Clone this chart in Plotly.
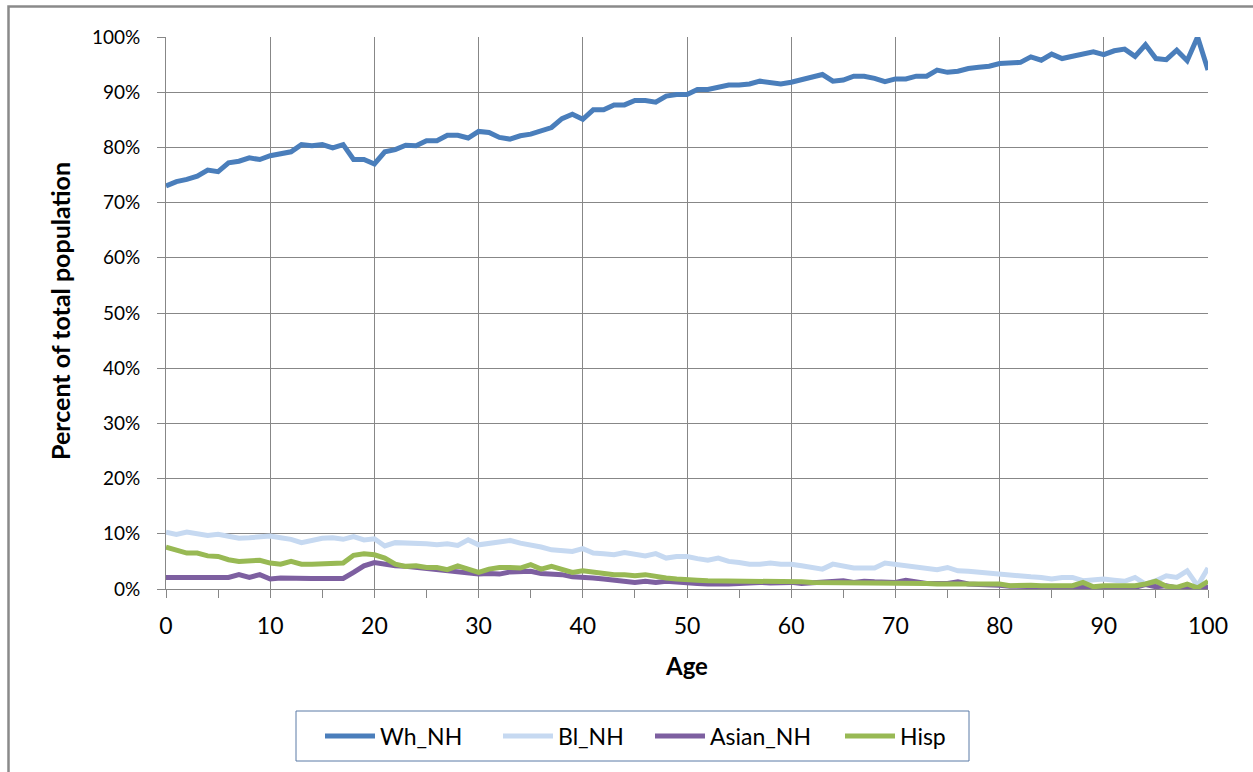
import plotly.graph_objects as go

ages = list(range(0, 101))

wh_nh = [73.0, 73.8, 74.2, 74.8, 75.9, 75.6, 77.2, 77.5, 78.1, 77.8,
         78.5, 78.9, 79.2, 80.5, 80.3, 80.5, 79.9, 80.5, 77.8, 77.8,
         77.0, 79.2, 79.6, 80.4, 80.3, 81.2, 81.2, 82.2, 82.2, 81.7,
         82.9, 82.7, 81.8, 81.5, 82.1, 82.4, 83.1, 83.6, 85.2, 86.0,
         85.1, 86.8, 86.8, 87.7, 87.7, 88.5, 88.5, 88.2, 89.3, 89.6,
         89.6, 90.5, 90.5, 90.8, 91.3, 91.3, 91.5, 92.0, 91.8, 91.5,
         91.8, 92.3, 92.8, 93.2, 92.0, 92.2, 92.9, 92.9, 92.5, 91.9,
         92.4, 92.4, 92.9, 92.9, 94.0, 93.6, 93.8, 94.3, 94.5, 94.7,
         95.2, 95.4, 95.4, 96.4, 95.8, 96.9, 96.1, 96.5, 97.0, 97.3,
         96.8, 97.5, 97.8, 96.5, 98.6, 96.1, 95.9, 97.6, 95.7, 100.0,
         94.0]

bl_nh = [10.3, 9.9, 10.3, 10.1, 9.7, 9.9, 9.6, 9.2, 9.3, 9.4,
         9.6, 9.3, 9.0, 8.4, 8.9, 9.2, 9.3, 9.0, 9.5, 8.9,
         9.1, 7.8, 8.4, 8.4, 8.3, 8.2, 8.0, 8.2, 7.9, 8.9,
         8.0, 8.3, 8.7, 8.8, 8.3, 8.0, 7.6, 7.1, 7.0, 6.8,
         7.3, 6.5, 6.4, 6.2, 6.6, 6.2, 6.0, 6.4, 5.6, 5.9,
         5.9, 5.5, 5.2, 5.6, 5.0, 4.8, 4.5, 4.5, 4.7, 4.5,
         4.5, 4.2, 3.9, 3.6, 4.5, 4.2, 3.8, 3.8, 3.8, 4.7,
         4.5, 4.2, 4.1, 3.8, 3.5, 3.9, 3.3, 3.2, 3.0, 2.8,
         2.7, 2.6, 2.4, 2.2, 2.1, 1.8, 2.1, 2.1, 1.5, 1.6,
         1.8, 1.6, 1.4, 2.1, 0.9, 1.5, 2.4, 2.1, 3.3, 0.6,
         3.8]

asian_nh = [2.1, 2.1, 2.1, 2.1, 2.1, 2.1, 2.1, 2.6, 2.1, 2.6,
            1.8, 2.0, 1.9, 1.9, 1.9, 1.9, 1.9, 1.9, 3.0, 4.2,
            4.8, 4.4, 4.2, 4.1, 3.9, 3.8, 3.6, 3.3, 3.2, 3.0,
            2.7, 2.8, 2.7, 3.1, 3.2, 3.2, 2.8, 2.8, 2.6, 2.2,
            2.2, 2.0, 1.8, 1.6, 1.4, 1.2, 1.4, 1.2, 1.4, 1.2,
            1.2, 1.0, 0.9, 0.8, 0.9, 1.0, 1.2, 1.2, 1.1, 1.2,
            1.2, 1.0, 1.1, 1.3, 1.5, 1.5, 1.2, 1.4, 1.3, 1.3,
            1.2, 1.6, 1.2, 1.0, 1.0, 1.0, 1.3, 0.9, 0.8, 0.8,
            0.7, 0.5, 0.5, 0.4, 0.3, 0.4, 0.3, 0.4, 0.3, 0.2,
            0.3, 0.3, 0.4, 0.3, 0.8, 0.4, 0.6, 0.2, 0.3, 0.2,
            0.3]

hisp = [7.6, 7.0, 6.5, 6.5, 6.0, 5.9, 5.3, 5.0, 5.2, 5.2,
        4.7, 4.5, 5.0, 4.5, 4.5, 4.5, 4.7, 4.7, 6.1, 6.4,
        6.2, 5.6, 4.5, 4.1, 4.2, 3.9, 3.9, 3.5, 4.2, 3.6,
        3.0, 3.6, 3.9, 3.9, 3.8, 4.4, 3.6, 4.1, 3.5, 3.0,
        3.3, 3.0, 2.7, 2.6, 2.6, 2.4, 2.6, 2.2, 2.0, 1.8,
        1.8, 1.6, 1.5, 1.5, 1.5, 1.4, 1.5, 1.4, 1.4, 1.5,
        1.5, 1.3, 1.2, 1.2, 1.2, 1.2, 1.2, 1.1, 1.1, 1.0,
        1.0, 1.0, 1.0, 1.0, 0.9, 0.9, 0.9, 0.9, 0.9, 0.9,
        0.9, 0.6, 0.7, 0.7, 0.6, 0.6, 0.6, 0.6, 1.2, 0.4,
        0.6, 0.6, 0.7, 0.6, 0.9, 1.4, 0.5, 0.3, 0.9, 0.2,
        1.4]

series_names = ["Wh_NH", "Bl_NH", "Asian_NH", "Hisp"]
series_values = [wh_nh, bl_nh, asian_nh, hisp]
series_colors = ["#4a7ebb", "#c6d9f1", "#7d5fa0", "#98b954"]

x_tickvals = list(range(0, 101, 10))
y_tickvals = list(range(0, 101, 10))
y_ticktext = [f"{v}%" for v in y_tickvals]

FONT = "Lato, 'Open Sans', sans-serif"
GRID = "#878787"

# page geometry (body margin removed below, so page px == figure px)
PL, PR, PT, PB = 166, 1208, 37, 589
PW, PH = PR - PL, PB - PT


def px_x(p):
    return (p - PL) / PW


def px_y(p):
    return (PB - p) / PH


legend_ids = ["legend", "legend2", "legend3", "legend4"]
legend_left_px = [320, 498, 650, 840]

fig = go.Figure()
for name, vals, col, lid in zip(series_names, series_values, series_colors, legend_ids):
    fig.add_trace(go.Scatter(
        x=ages, y=vals, mode="lines", name=name, legend=lid,
        line=dict(color=col, width=5),
    ))

legend_layout = {}
for lid, lx in zip(legend_ids, legend_left_px):
    legend_layout[lid] = dict(
        orientation="h",
        x=px_x(lx), xanchor="left",
        y=px_y(736), yanchor="middle",
        bgcolor="rgba(0,0,0,0)", borderwidth=0,
        font=dict(family=FONT, size=23, color="#000000"),
        itemwidth=50,
    )

fig.update_layout(
    width=1253, height=772,
    margin=dict(l=PL, r=1253 - PR, t=PT, b=772 - PB),
    paper_bgcolor="white", plot_bgcolor="white",
    font=dict(family=FONT, color="#000000"),
    showlegend=True,
    **legend_layout,
    xaxis=dict(
        range=[0, 100],
        tickvals=x_tickvals,
        ticks="outside", ticklen=8, tickcolor=GRID, tickwidth=1,
        minor=dict(dtick=5, tick0=0, ticks="outside", ticklen=8,
                   tickcolor=GRID, tickwidth=1, showgrid=False),
        showgrid=True, gridcolor=GRID, gridwidth=1,
        showline=True, linecolor=GRID, linewidth=1,
        zeroline=False,
        ticklabelstandoff=8,
        tickfont=dict(family=FONT, size=23, color="#000000"),
    ),
    yaxis=dict(
        range=[0, 100],
        tickvals=y_tickvals, ticktext=y_ticktext,
        ticks="outside", ticklen=8, tickcolor=GRID, tickwidth=1,
        showgrid=True, gridcolor=GRID, gridwidth=1,
        showline=True, linecolor=GRID, linewidth=1,
        zeroline=False,
        ticklabelstandoff=13,
        tickfont=dict(family=FONT, size=19, color="#000000"),
    ),
)

# axis titles
fig.add_annotation(text="<b>Age</b>", xref="paper", yref="paper",
                   x=px_x(686), y=px_y(665), xanchor="center", yanchor="middle",
                   showarrow=False, font=dict(family=FONT, size=24, color="#000000"))
fig.add_annotation(text="<b>Percent of total population</b>", xref="paper", yref="paper",
                   x=px_x(60), y=px_y(311), xanchor="center", yanchor="middle",
                   textangle=-90, showarrow=False,
                   font=dict(family=FONT, size=25, color="#000000"))

# legend frame
fig.add_shape(type="rect", xref="paper", yref="paper",
              x0=px_x(296), x1=px_x(969), y0=px_y(761), y1=px_y(711),
              line=dict(color="#5a7aa6", width=1), fillcolor="rgba(0,0,0,0)")

# outer chart-area border: top and left edges visible in the crop
fig.add_shape(type="path", xref="paper", yref="paper",
              path=(f"M {px_x(8.5)} {px_y(790)} L {px_x(8.5)} {px_y(6.5)} "
                    f"L {px_x(1270)} {px_y(6.5)}"),
              line=dict(color="#8a8a8a", width=2.5), fillcolor="rgba(0,0,0,0)")

fig.write_html("out.html", config={"displayModeBar": False},
               post_script="document.body.style.margin='0px';")
